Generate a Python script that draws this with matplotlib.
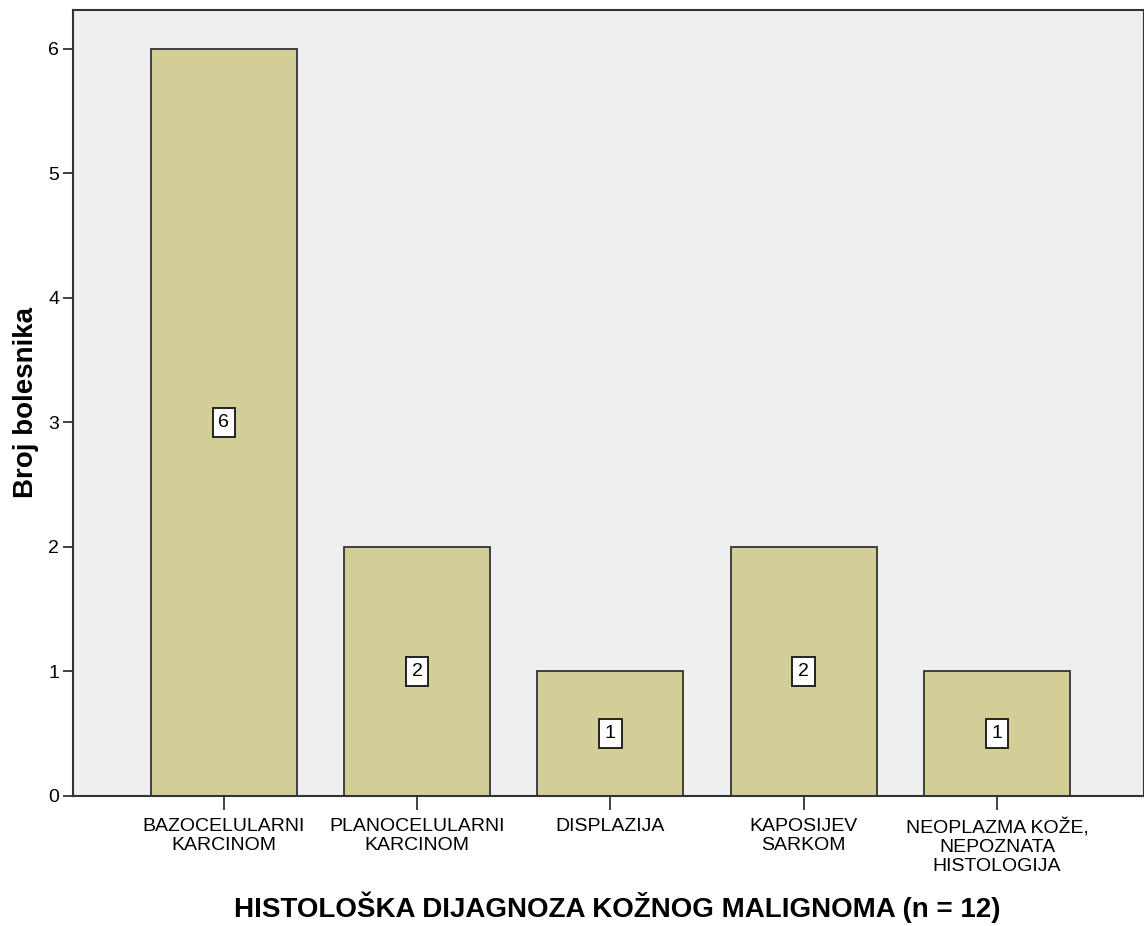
import numpy as np
import matplotlib
matplotlib.use("Agg")
import matplotlib.pyplot as plt

plt.rcParams['font.family'] = ['Liberation Sans', 'DejaVu Sans']

# diagnoses and patient counts
categories = ["BAZOCELULARNI\nKARCINOM", "PLANOCELULARNI\nKARCINOM", "DISPLAZIJA",
              "KAPOSIJEV\nSARKOM", "NEOPLAZMA KOŽE,\nNEPOZNATA\nHISTOLOGIJA"]
counts = [6, 2, 1, 2, 1]
yticks = [0, 1, 2, 3, 4, 5, 6]

fig = plt.figure(figsize=(11.44, 9.26), dpi=100)
ax = fig.add_axes([73 / 1144, 1 - 796 / 926, 1 - 73 / 1144, (796 - 10) / 926])
ax.set_facecolor("#efefef")

x = np.arange(len(categories))
bars = ax.bar(x, counts, width=0.755, color="#d3ce97", edgecolor="#333333", linewidth=1.3, zorder=2)

for xi, c in zip(x, counts):
    ax.text(xi, c / 2, str(c), ha="center", va="center", fontsize=14, zorder=3,
            bbox=dict(boxstyle="square,pad=0.3", facecolor="white", edgecolor="#222222", linewidth=1.4))

ax.set_xlim(-0.78, 4.76)
ax.set_ylim(0, 6.31)
ax.set_xticks(x)
ax.set_xticklabels(categories, fontsize=14, linespacing=1.15)
ax.set_yticks(yticks)
ax.tick_params(axis="y", labelsize=14, length=7, width=1.3, color="#333333", pad=3)
ax.tick_params(axis="x", length=10, width=1.3, color="#333333", pad=6)

for s in ["left", "top", "bottom", "right"]:
    ax.spines[s].set_color("#333333")
    ax.spines[s].set_linewidth(1.5)

ax.set_ylabel("Broj bolesnika", fontsize=20, fontweight="bold", va="center")
ax.yaxis.set_label_coords(-0.044, 0.5)
ax.set_xlabel("HISTOLOŠKA DIJAGNOZA KOŽNOG MALIGNOMA (n = 12)", fontsize=20, fontweight="bold", va="center")
ax.xaxis.set_label_coords(0.508, -0.142)

fig.savefig("out.png", dpi=100)
